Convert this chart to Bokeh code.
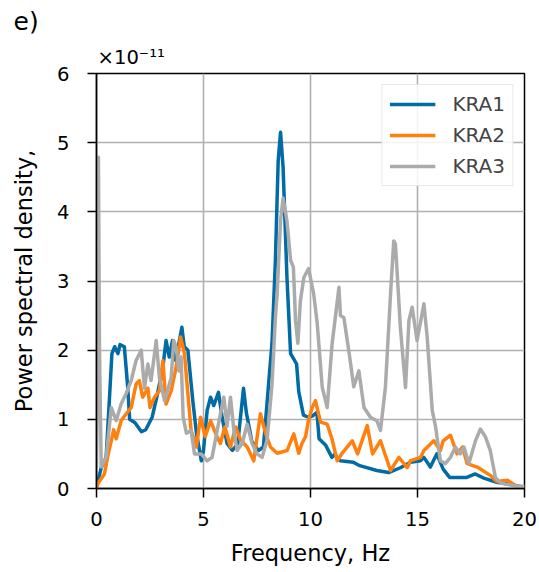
from bokeh.plotting import figure
from bokeh.models import FixedTicker, Title
from bokeh.embed import file_html
from bokeh.resources import INLINE

# ---- data (PSD in units of 1e-11) ----
kra1_f = [0.0, 0.1, 0.22, 0.45, 0.6, 0.72, 0.85, 1.0, 1.1, 1.3, 1.45, 1.55, 1.8, 2.1, 2.3, 2.6,
          2.85, 3.1, 3.25, 3.4, 3.55, 3.7, 3.85, 3.99, 4.1, 4.27, 4.5, 4.67, 4.9, 5.0, 5.17,
          5.33, 5.48, 5.7, 5.86, 6.1, 6.35, 6.6, 6.87, 7.0, 7.26, 7.57, 7.8, 8.04, 8.2, 8.36,
          8.49, 8.6, 8.72, 8.9, 9.07, 9.22, 9.35, 9.45, 9.67, 9.9, 10.1, 10.3, 10.4, 10.7,
          11.0, 11.15, 11.25, 11.4, 12.0, 12.3, 13.1, 13.65, 14.2, 14.67, 15.14, 15.3, 15.6,
          15.9, 16.2, 16.5, 17.3, 17.7, 18.1, 18.7, 19.35, 19.95]
kra1_v = [0.08, 0.15, 0.3, 0.45, 1.27, 1.95, 2.05, 1.95, 2.08, 2.05, 1.5, 1.0, 0.95, 0.82, 0.85, 1.03,
          1.37, 1.75, 2.14, 1.9, 2.14, 1.85, 2.1, 2.33, 2.05, 2.0, 1.27, 0.8, 0.4, 0.55, 1.13,
          1.32, 1.2, 1.39, 1.05, 0.65, 0.55, 0.65, 1.45, 1.1, 0.68, 0.55, 0.6, 1.5, 2.1, 3.3,
          4.74, 5.15, 4.64, 3.05, 1.95, 1.87, 1.8, 1.4, 1.06, 1.03, 1.05, 1.1, 0.72, 0.63,
          0.45, 0.5, 0.43, 0.4, 0.38, 0.33, 0.26, 0.23, 0.3, 0.38, 0.4, 0.45, 0.31,
          0.5, 0.28, 0.16, 0.16, 0.21, 0.15, 0.09, 0.06, 0.02]

kra2_f = [0.0, 0.06, 0.37, 0.55, 0.69, 0.8, 0.92, 1.15, 1.39, 1.62, 1.85, 2.0, 2.16, 2.4, 2.5,
          2.71, 2.94, 3.1, 3.25, 3.49, 3.72, 3.93, 4.11, 4.27, 4.42, 4.67, 4.86, 5.08, 5.33,
          5.56, 5.79, 6.0, 6.26, 6.5, 6.73, 7.04, 7.35, 7.66, 7.9, 8.13, 8.44, 8.91, 9.22,
          9.45, 9.6, 9.77, 9.9, 10.08, 10.23, 10.47, 10.78, 11.0, 11.25, 11.5, 11.95, 12.2,
          12.65, 12.9, 13.27, 13.74, 14.13, 14.52, 14.67, 15.14, 15.3, 15.76, 16.07, 16.2,
          16.54, 16.85, 17.1, 17.32, 17.79, 18.4, 18.7, 19.2, 19.65, 20.0]
kra2_v = [0.0, 0.07, 0.21, 0.5, 0.69, 0.85, 0.72, 0.98, 1.08, 1.17, 1.51, 1.56, 1.32, 1.45, 1.17,
          1.32, 1.41, 1.85, 1.22, 1.41, 1.75, 2.19, 1.95, 1.37, 0.84, 0.6, 1.03, 0.75, 0.98,
          0.8, 0.65, 0.89, 0.6, 0.89, 0.7, 0.6, 0.4, 1.08, 0.8, 0.6, 0.51, 0.55, 0.79,
          0.51, 0.65, 0.75, 0.98, 1.17, 1.27, 0.96, 0.93, 0.72, 0.4, 0.52, 0.69, 0.5,
          0.91, 0.5, 0.69, 0.26, 0.45, 0.3, 0.4, 0.45, 0.55, 0.69, 0.55, 0.69,
          0.77, 0.5, 0.6, 0.36, 0.31, 0.19, 0.1, 0.12, 0.03, 0.02]

kra3_f = [0.0, 0.05, 0.09, 0.14, 0.22, 0.45, 0.69, 0.92, 1.15, 1.38, 1.62, 1.85, 2.09, 2.24, 2.4,
          2.55, 2.79, 2.94, 3.18, 3.49, 3.61, 3.72, 3.85, 3.95, 4.05, 4.2, 4.42, 4.58, 4.89,
          5.17, 5.4, 5.64, 5.95, 6.1, 6.26, 6.42, 6.57, 6.81, 7.04, 7.27, 7.5, 7.74, 7.97,
          8.2, 8.36, 8.44, 8.6, 8.72, 8.9, 9.07, 9.2, 9.3, 9.41, 9.53, 9.69, 9.91, 10.15,
          10.31, 10.55, 10.78, 11.01, 11.33, 11.4, 11.56, 11.8, 12.02, 12.26, 12.5, 12.8,
          13.1, 13.27, 13.5, 13.74, 13.89, 13.97, 14.2, 14.44, 14.6, 14.75, 14.98, 15.3,
          15.45, 15.69, 15.84, 16.07, 16.3, 16.54, 16.77, 17.0, 17.17, 17.4, 17.71, 17.94,
          18.17, 18.4, 18.64, 18.88, 19.5, 20.0]
kra3_v = [0.3, 2.0, 4.79, 2.0, 0.31, 0.45, 1.17, 0.98, 1.22, 1.37, 1.56, 1.85, 2.0, 1.45, 1.8,
          1.56, 2.14, 1.6, 1.27, 1.6, 2.14, 2.04, 1.7, 1.9, 1.03, 0.8, 0.84, 0.5, 0.5,
          0.4, 0.45, 0.84, 1.32, 0.9, 1.32, 0.84, 0.55, 0.65, 0.93, 0.65, 0.5, 0.45, 0.7,
          1.5, 2.47, 2.81, 3.87, 4.2, 3.87, 3.3, 3.2, 2.43, 2.1, 2.72, 3.05, 3.18, 2.81,
          2.4, 1.46, 1.17, 2.09, 2.91, 2.5, 2.47, 1.97, 1.47, 1.7, 1.17, 1.03,
          0.98, 0.84, 1.46, 2.81, 3.58, 3.53, 2.33, 1.46, 2.43, 2.62, 2.14, 2.67,
          2.2, 1.13, 0.9, 0.4, 0.36, 0.45, 0.6, 0.5, 0.6, 0.36, 0.69, 0.86,
          0.75, 0.55, 0.16, 0.08, 0.04, 0.03]

series_names = ["KRA1", "KRA2", "KRA3"]
series_colors = ["#006ba4", "#ff800e", "#ababab"]
x_ticks = [0, 5, 10, 15, 20]
y_ticks = [0, 1, 2, 3, 4, 5, 6]

FONT = "DejaVu Sans"
FS = "19.6px"
FS_LABEL = "22.5px"

p = figure(frame_width=428, frame_height=415, x_range=(0, 20), y_range=(0, 6),
           output_backend="svg", toolbar_location=None, title_location=None,
           min_border_left=96, min_border_right=15, min_border_top=73, min_border_bottom=84)
p.background_fill_color = "white"
p.border_fill_color = "white"
p.outline_line_color = "black"
p.outline_line_width = 1.5

for f, v, name, col in zip([kra1_f, kra2_f, kra3_f], [kra1_v, kra2_v, kra3_v],
                           series_names, series_colors):
    p.line(f, v, line_color=col, line_width=3.5, legend_label=name, line_join="round")

p.xaxis.ticker = FixedTicker(ticks=x_ticks)
p.yaxis.ticker = FixedTicker(ticks=y_ticks)
for ax in (p.xaxis, p.yaxis):
    ax.major_label_text_font = FONT
    ax.major_label_text_font_size = FS
    ax.major_label_text_color = "black"
    ax.axis_label_text_font = FONT
    ax.axis_label_text_font_size = FS_LABEL
    ax.axis_label_text_font_style = "normal"
    ax.axis_label_text_color = "black"
    ax.major_tick_out = 9
    ax.major_tick_in = 0
    ax.minor_tick_out = 0
    ax.minor_tick_in = 0
    ax.axis_line_color = "black"
    ax.axis_line_width = 1.5
    ax.major_tick_line_width = 1.5
    ax.major_tick_line_color = "black"

p.xaxis.axis_label = "Frequency, Hz"
p.yaxis.axis_label = "Power spectral density,"
p.xaxis.major_label_standoff = 14
p.xaxis.axis_label_standoff = 11
p.yaxis.major_label_standoff = 18
p.yaxis.axis_label_standoff = 17

p.xgrid.grid_line_color = "#b0b0b0"
p.ygrid.grid_line_color = "#b0b0b0"
p.xgrid.grid_line_width = 1.6
p.ygrid.grid_line_width = 1.6

lg = p.legend[0]
lg.location = "top_right"
lg.margin = 11
lg.padding = 7
lg.spacing = 7
lg.glyph_width = 46
lg.glyph_height = 20
lg.label_height = 20
lg.label_standoff = 17
lg.label_text_font = FONT
lg.label_text_font_size = "20px"
lg.border_line_color = "#d0d0d0"
lg.border_line_width = 1.2
lg.background_fill_alpha = 0.85

t_exp = Title(text="×10⁻¹¹", align="left", offset=1, text_font=FONT,
              text_font_size=FS, text_font_style="normal", text_color="black", standoff=9)
t_e = Title(text="e)", align="left", offset=-83, text_font=FONT,
            text_font_size="25px", text_font_style="normal", text_color="black", standoff=8)
p.add_layout(t_exp, "above")
p.add_layout(t_e, "above")

open("out.html", "w").write(file_html(p, INLINE))
